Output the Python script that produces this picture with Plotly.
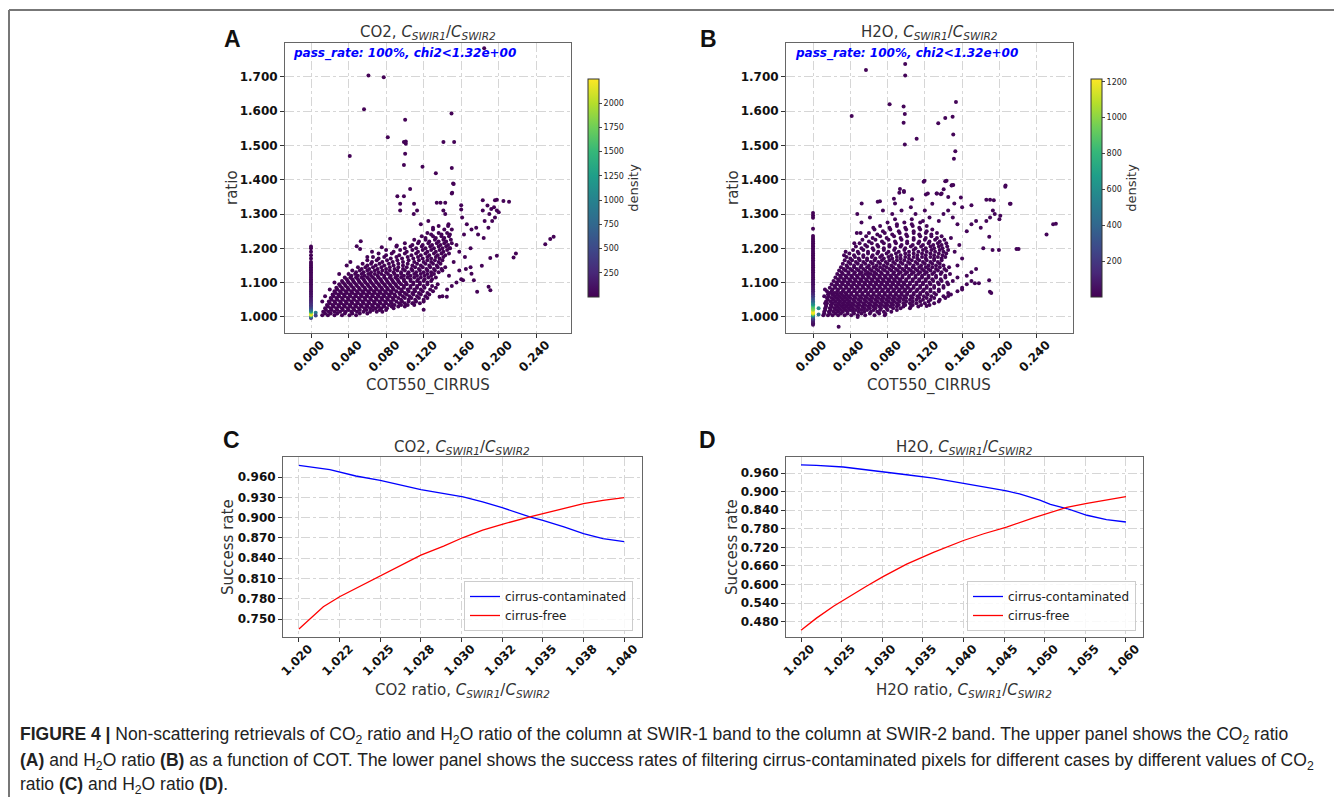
import plotly.graph_objects as go

# ---------------- data ----------------
# Panel A (CO2): dense cloud, one row per ratio value -> list of COT550 values
cloud_rows_a = [
    (1.005, [0.012, 0.018, 0.025, 0.033, 0.041, 0.048]),
    (1.010, [0.015, 0.021, 0.028, 0.036, 0.044, 0.052, 0.060]),
    (1.015, [0.013, 0.019, 0.025, 0.031, 0.037, 0.043, 0.049, 0.056, 0.063, 0.070, 0.076]),
    (1.020, [0.016, 0.022, 0.028, 0.034, 0.040, 0.046, 0.052, 0.059, 0.066, 0.073, 0.080]),
    (1.025, [0.015, 0.021, 0.027, 0.033, 0.039, 0.045, 0.051, 0.057, 0.063, 0.069, 0.075, 0.081, 0.088]),
    (1.030, [0.018, 0.024, 0.030, 0.036, 0.042, 0.048, 0.054, 0.060, 0.066, 0.072, 0.078, 0.086, 0.093, 0.100]),
    (1.035, [0.017, 0.023, 0.029, 0.035, 0.041, 0.047, 0.053, 0.059, 0.065, 0.071, 0.077, 0.083, 0.089, 0.096, 0.103, 0.110]),
    (1.040, [0.020, 0.026, 0.032, 0.038, 0.044, 0.050, 0.056, 0.062, 0.068, 0.074, 0.080, 0.086, 0.094, 0.100, 0.108, 0.116]),
    (1.045, [0.019, 0.025, 0.031, 0.037, 0.043, 0.049, 0.055, 0.061, 0.067, 0.073, 0.079, 0.085, 0.091, 0.097, 0.104, 0.112, 0.120]),
    (1.050, [0.022, 0.028, 0.034, 0.040, 0.046, 0.052, 0.058, 0.064, 0.070, 0.076, 0.082, 0.088, 0.096, 0.104, 0.111, 0.120]),
    (1.055, [0.021, 0.027, 0.033, 0.039, 0.045, 0.051, 0.057, 0.063, 0.069, 0.075, 0.081, 0.087, 0.093, 0.100, 0.107, 0.115, 0.124]),
    (1.060, [0.024, 0.030, 0.036, 0.042, 0.048, 0.054, 0.060, 0.066, 0.072, 0.078, 0.084, 0.090, 0.098, 0.105, 0.113, 0.122]),
    (1.065, [0.023, 0.029, 0.035, 0.041, 0.047, 0.053, 0.059, 0.065, 0.071, 0.077, 0.083, 0.089, 0.095, 0.102, 0.109, 0.117, 0.126]),
    (1.070, [0.026, 0.032, 0.038, 0.044, 0.050, 0.056, 0.062, 0.068, 0.074, 0.080, 0.086, 0.094, 0.100, 0.108, 0.115, 0.124]),
    (1.075, [0.025, 0.031, 0.037, 0.043, 0.049, 0.055, 0.061, 0.067, 0.073, 0.079, 0.085, 0.091, 0.097, 0.104, 0.111, 0.119, 0.130]),
    (1.080, [0.028, 0.034, 0.040, 0.046, 0.052, 0.058, 0.064, 0.070, 0.076, 0.082, 0.088, 0.096, 0.103, 0.110, 0.117, 0.127]),
    (1.085, [0.027, 0.033, 0.039, 0.045, 0.051, 0.057, 0.063, 0.069, 0.075, 0.081, 0.087, 0.093, 0.099, 0.106, 0.113, 0.121, 0.133]),
    (1.090, [0.031, 0.037, 0.043, 0.049, 0.055, 0.061, 0.067, 0.073, 0.079, 0.085, 0.091, 0.099, 0.106, 0.113, 0.120, 0.129]),
    (1.095, [0.030, 0.036, 0.042, 0.048, 0.054, 0.060, 0.066, 0.072, 0.078, 0.084, 0.090, 0.096, 0.102, 0.109, 0.116, 0.124, 0.135]),
    (1.100, [0.034, 0.040, 0.046, 0.052, 0.058, 0.064, 0.070, 0.076, 0.082, 0.088, 0.094, 0.101, 0.109, 0.116, 0.124]),
    (1.105, [0.033, 0.039, 0.045, 0.051, 0.057, 0.063, 0.069, 0.075, 0.081, 0.087, 0.093, 0.099, 0.106, 0.113, 0.120, 0.128]),
    (1.110, [0.038, 0.044, 0.050, 0.056, 0.062, 0.068, 0.074, 0.080, 0.086, 0.092, 0.099, 0.106, 0.114, 0.121, 0.129]),
    (1.115, [0.036, 0.042, 0.048, 0.054, 0.060, 0.066, 0.072, 0.078, 0.084, 0.090, 0.096, 0.103, 0.110, 0.117, 0.125, 0.133]),
    (1.120, [0.043, 0.050, 0.057, 0.064, 0.071, 0.078, 0.085, 0.092, 0.099, 0.106, 0.113, 0.121, 0.128]),
    (1.125, [0.040, 0.047, 0.054, 0.061, 0.068, 0.075, 0.082, 0.089, 0.096, 0.103, 0.110, 0.117, 0.124, 0.131]),
    (1.130, [0.048, 0.056, 0.064, 0.072, 0.080, 0.088, 0.096, 0.104, 0.112, 0.120, 0.128, 0.136]),
    (1.135, [0.044, 0.052, 0.060, 0.068, 0.076, 0.084, 0.092, 0.100, 0.108, 0.116, 0.124, 0.132, 0.140]),
    (1.140, [0.054, 0.062, 0.071, 0.080, 0.089, 0.098, 0.107, 0.115, 0.123, 0.131, 0.139]),
    (1.145, [0.050, 0.058, 0.066, 0.075, 0.084, 0.093, 0.102, 0.111, 0.119, 0.127, 0.135, 0.143]),
    (1.150, [0.060, 0.069, 0.078, 0.088, 0.098, 0.108, 0.117, 0.126, 0.134]),
    (1.155, [0.055, 0.064, 0.073, 0.083, 0.093, 0.103, 0.113, 0.122, 0.130, 0.138]),
    (1.160, [0.065, 0.076, 0.087, 0.098, 0.110, 0.120, 0.128, 0.136]),
    (1.165, [0.060, 0.070, 0.081, 0.092, 0.104, 0.115, 0.124, 0.132, 0.140]),
    (1.170, [0.072, 0.085, 0.097, 0.109, 0.119, 0.128, 0.137]),
    (1.175, [0.066, 0.078, 0.091, 0.103, 0.114, 0.124, 0.133, 0.141]),
    (1.180, [0.080, 0.094, 0.107, 0.117, 0.126, 0.135, 0.143]),
    (1.185, [0.072, 0.086, 0.100, 0.112, 0.122, 0.131, 0.139, 0.147]),
    (1.190, [0.088, 0.102, 0.114, 0.124, 0.133, 0.141]),
    (1.195, [0.080, 0.095, 0.108, 0.119, 0.128, 0.137, 0.145]),
    (1.200, [0.100, 0.112, 0.122, 0.131, 0.140, 0.148]),
    (1.205, [0.091, 0.106, 0.118, 0.127, 0.136, 0.144]),
    (1.210, [0.108, 0.119, 0.129, 0.138, 0.146]),
    (1.215, [0.100, 0.114, 0.125, 0.134, 0.142, 0.150]),
    (1.220, [0.115, 0.126, 0.136, 0.144]),
    (1.225, [0.110, 0.122, 0.132, 0.141, 0.149]),
    (1.230, [0.122, 0.133, 0.142]),
    (1.235, [0.118, 0.130, 0.139, 0.147]),
    (1.240, [0.128, 0.139, 0.148]),
    (1.245, [0.124, 0.136, 0.145]),
    (1.255, [0.130, 0.142, 0.150]),
    (1.265, [0.136, 0.146]),
]
# Panel A: sparse points and outliers (COT550, ratio)
sparse_a = [
    (0.053, 1.221), (0.0487, 1.206), (0.0523, 1.198), (0.0754, 1.203), (0.0843, 1.228), (0.0914, 1.208),
    (0.065, 1.19), (0.060, 1.175), (0.042, 1.16), (0.038, 1.15), (0.030, 1.125), (0.025, 1.10),
    (0.020, 1.08), (0.015, 1.06), (0.012, 1.045), (0.140, 1.06), (0.145, 1.08), (0.150, 1.09),
    (0.155, 1.10), (0.160, 1.11), (0.147, 1.12), (0.158, 1.135), (0.165, 1.14), (0.170, 1.145),
    (0.171, 1.126), (0.162, 1.107), (0.1735, 1.107), (0.177, 1.073), (0.1892, 1.088), (0.1911, 1.078),
    (0.182, 1.149), (0.191, 1.172), (0.198, 1.178), (0.2158, 1.173), (0.2183, 1.185), (0.2496, 1.212),
    (0.2549, 1.227), (0.2585, 1.234), (0.164, 1.175), (0.170, 1.20), (0.155, 1.21), (0.163, 1.24),
    (0.1465, 1.27), (0.141, 1.31), (0.143, 1.30), (0.125, 1.28), (0.117, 1.27), (0.1095, 1.30),
    (0.113, 1.31), (0.130, 1.26), (0.161, 1.29), (0.166, 1.27), (0.171, 1.255), (0.176, 1.26),
    (0.184, 1.23), (0.189, 1.26), (0.183, 1.31), (0.198, 1.31), (0.185, 1.28), (0.193, 1.28),
    (0.190, 1.30), (0.192, 1.315), (0.195, 1.32), (0.188, 1.325), (0.196, 1.29), (0.200, 1.305),
    (0.178, 1.24), (0.152, 1.16), (0.158, 1.19), (0.148, 1.20), (0.120, 1.021), (0.1447, 1.059),
    (0.137, 1.059), (0.109, 1.04), (0.133, 1.419), (0.152, 1.388), (0.150, 1.36), (0.1056, 1.373),
    (0.092, 1.352), (0.099, 1.352), (0.095, 1.33), (0.095, 1.31), (0.1098, 1.33), (0.134, 1.333),
    (0.138, 1.333), (0.143, 1.333), (0.160, 1.326), (0.160, 1.313), (0.183, 1.34), (0.196, 1.34),
    (0.198, 1.342), (0.205, 1.338), (0.211, 1.336), (0.0413, 1.469), (0.0565, 1.606), (0.0612, 1.704),
    (0.0775, 1.699), (0.0818, 1.524), (0.1003, 1.575), (0.099, 1.51), (0.101, 1.512), (0.101, 1.505),
    (0.1003, 1.476), (0.099, 1.443), (0.1188, 1.438), (0.1411, 1.51), (0.1497, 1.593), (0.1525, 1.51),
    (0.150, 1.434), (0.1514, 1.389), (0.1504, 1.362), (0.1845, 1.784),
]
# Panel A: column at COT550 = 0 (ratio, density)
column_ratio_a = [0.997, 1.000, 1.003, 1.006, 1.009, 1.012, 1.015, 1.018, 1.021, 1.024, 1.027, 1.030,
                  1.034, 1.038, 1.042, 1.046, 1.050, 1.055, 1.060, 1.065, 1.070, 1.075, 1.080, 1.085,
                  1.090, 1.095, 1.100, 1.105, 1.110, 1.115, 1.120, 1.125, 1.130, 1.135, 1.140, 1.145,
                  1.150, 1.155, 1.160, 1.170, 1.180, 1.190, 1.200, 1.205]
column_density_a = [350, 700, 1400, 2200, 2200, 2000, 1500, 1100, 900, 700, 550, 450,
                    380, 320, 280, 240, 200, 160, 130, 110, 90, 80, 70, 60,
                    55, 50, 45, 40, 35, 30, 30, 25, 25, 20, 20, 20,
                    15, 15, 15, 10, 10, 10, 10, 10]
near_zero_a = [(0.005, 1.012, 900), (0.005, 1.004, 450)]

# Panel B (H2O)
cloud_rows_b = [
    (1.005, [0.011, 0.016, 0.021, 0.027, 0.034, 0.041, 0.048, 0.056, 0.066, 0.077]),
    (1.010, [0.012, 0.018, 0.024, 0.030, 0.037, 0.044, 0.052, 0.061, 0.071]),
    (1.015, [0.012, 0.017, 0.022, 0.027, 0.032, 0.037, 0.043, 0.049, 0.055, 0.062, 0.069, 0.076, 0.084]),
    (1.020, [0.013, 0.019, 0.025, 0.030, 0.035, 0.040, 0.046, 0.052, 0.058, 0.065, 0.072, 0.080, 0.090]),
    (1.025, [0.013, 0.018, 0.023, 0.028, 0.033, 0.038, 0.043, 0.049, 0.055, 0.061, 0.067, 0.073, 0.079, 0.086, 0.094, 0.104]),
    (1.030, [0.014, 0.020, 0.026, 0.031, 0.036, 0.041, 0.047, 0.053, 0.059, 0.065, 0.071, 0.077, 0.083, 0.090, 0.097, 0.105, 0.113]),
    (1.035, [0.014, 0.019, 0.024, 0.029, 0.034, 0.039, 0.044, 0.050, 0.056, 0.062, 0.068, 0.074, 0.080, 0.086, 0.092, 0.099, 0.107, 0.116, 0.125]),
    (1.040, [0.015, 0.021, 0.027, 0.032, 0.037, 0.042, 0.048, 0.054, 0.060, 0.066, 0.072, 0.078, 0.084, 0.090, 0.097, 0.104, 0.111, 0.120, 0.130]),
    (1.045, [0.014, 0.019, 0.024, 0.029, 0.034, 0.039, 0.045, 0.051, 0.057, 0.063, 0.069, 0.075, 0.081, 0.087, 0.093, 0.100, 0.107, 0.115, 0.124, 0.135]),
    (1.050, [0.016, 0.022, 0.027, 0.032, 0.037, 0.043, 0.049, 0.055, 0.061, 0.067, 0.073, 0.079, 0.085, 0.091, 0.097, 0.104, 0.111, 0.118, 0.126, 0.136]),
    (1.055, [0.015, 0.020, 0.025, 0.030, 0.035, 0.040, 0.046, 0.052, 0.058, 0.064, 0.070, 0.076, 0.082, 0.088, 0.094, 0.100, 0.107, 0.114, 0.122, 0.130, 0.142]),
    (1.060, [0.017, 0.023, 0.028, 0.033, 0.038, 0.044, 0.050, 0.056, 0.062, 0.068, 0.074, 0.080, 0.086, 0.092, 0.098, 0.105, 0.112, 0.119, 0.127, 0.140]),
    (1.065, [0.016, 0.021, 0.026, 0.031, 0.036, 0.041, 0.047, 0.053, 0.059, 0.065, 0.071, 0.077, 0.083, 0.089, 0.095, 0.101, 0.108, 0.115, 0.123, 0.132, 0.148]),
    (1.070, [0.018, 0.023, 0.029, 0.035, 0.041, 0.047, 0.053, 0.059, 0.065, 0.071, 0.077, 0.083, 0.089, 0.095, 0.101, 0.108, 0.115, 0.122, 0.130, 0.145]),
    (1.075, [0.015, 0.020, 0.026, 0.032, 0.038, 0.044, 0.050, 0.056, 0.062, 0.068, 0.074, 0.080, 0.086, 0.092, 0.098, 0.104, 0.111, 0.118, 0.126, 0.135, 0.155]),
    (1.080, [0.021, 0.027, 0.033, 0.039, 0.045, 0.051, 0.057, 0.063, 0.069, 0.075, 0.081, 0.087, 0.093, 0.099, 0.105, 0.112, 0.119, 0.126, 0.135]),
    (1.085, [0.018, 0.024, 0.030, 0.036, 0.042, 0.048, 0.054, 0.060, 0.066, 0.072, 0.078, 0.084, 0.090, 0.096, 0.102, 0.108, 0.115, 0.122, 0.130, 0.140, 0.160]),
    (1.090, [0.023, 0.029, 0.035, 0.041, 0.047, 0.053, 0.059, 0.065, 0.071, 0.077, 0.083, 0.089, 0.095, 0.101, 0.108, 0.115, 0.122, 0.130, 0.140]),
    (1.095, [0.020, 0.026, 0.032, 0.038, 0.044, 0.050, 0.056, 0.062, 0.068, 0.074, 0.080, 0.086, 0.092, 0.098, 0.104, 0.111, 0.118, 0.126, 0.135, 0.145, 0.165]),
    (1.100, [0.025, 0.031, 0.037, 0.043, 0.049, 0.055, 0.061, 0.067, 0.073, 0.079, 0.085, 0.091, 0.097, 0.104, 0.111, 0.118, 0.125, 0.134, 0.144]),
    (1.105, [0.022, 0.028, 0.034, 0.040, 0.046, 0.052, 0.058, 0.064, 0.070, 0.076, 0.082, 0.088, 0.094, 0.100, 0.107, 0.114, 0.121, 0.129, 0.138, 0.150, 0.170]),
    (1.110, [0.027, 0.033, 0.039, 0.045, 0.051, 0.057, 0.063, 0.069, 0.075, 0.081, 0.087, 0.093, 0.100, 0.107, 0.114, 0.121, 0.128, 0.137]),
    (1.115, [0.024, 0.030, 0.036, 0.042, 0.048, 0.054, 0.060, 0.066, 0.072, 0.078, 0.084, 0.090, 0.096, 0.103, 0.110, 0.117, 0.124, 0.132, 0.142, 0.155]),
    (1.120, [0.029, 0.035, 0.041, 0.047, 0.053, 0.059, 0.065, 0.071, 0.077, 0.083, 0.089, 0.096, 0.103, 0.110, 0.117, 0.124, 0.132, 0.142]),
    (1.125, [0.026, 0.032, 0.038, 0.044, 0.050, 0.056, 0.062, 0.068, 0.074, 0.080, 0.086, 0.092, 0.099, 0.106, 0.113, 0.120, 0.128, 0.137, 0.147]),
    (1.130, [0.031, 0.038, 0.045, 0.052, 0.059, 0.066, 0.073, 0.080, 0.087, 0.094, 0.101, 0.108, 0.115, 0.122, 0.130, 0.138]),
    (1.135, [0.028, 0.035, 0.042, 0.049, 0.056, 0.063, 0.070, 0.077, 0.084, 0.091, 0.098, 0.105, 0.112, 0.119, 0.126, 0.134, 0.143]),
    (1.140, [0.033, 0.040, 0.047, 0.054, 0.061, 0.068, 0.075, 0.082, 0.089, 0.096, 0.103, 0.110, 0.117, 0.124, 0.132, 0.141]),
    (1.145, [0.030, 0.037, 0.044, 0.051, 0.058, 0.065, 0.072, 0.079, 0.086, 0.093, 0.100, 0.107, 0.114, 0.121, 0.128, 0.136, 0.146]),
    (1.150, [0.036, 0.044, 0.052, 0.060, 0.068, 0.076, 0.084, 0.092, 0.100, 0.108, 0.116, 0.124, 0.132, 0.140]),
    (1.155, [0.032, 0.040, 0.048, 0.056, 0.064, 0.072, 0.080, 0.088, 0.096, 0.104, 0.112, 0.120, 0.128, 0.136]),
    (1.160, [0.038, 0.046, 0.054, 0.062, 0.070, 0.078, 0.086, 0.094, 0.102, 0.110, 0.118, 0.126, 0.134]),
    (1.165, [0.034, 0.042, 0.050, 0.058, 0.066, 0.074, 0.082, 0.090, 0.098, 0.106, 0.114, 0.122, 0.130, 0.138]),
    (1.170, [0.040, 0.049, 0.058, 0.067, 0.076, 0.085, 0.094, 0.103, 0.112, 0.121, 0.130, 0.138]),
    (1.175, [0.036, 0.045, 0.054, 0.063, 0.072, 0.081, 0.090, 0.099, 0.108, 0.117, 0.126, 0.134, 0.142]),
    (1.180, [0.044, 0.054, 0.064, 0.074, 0.084, 0.094, 0.103, 0.112, 0.121, 0.130, 0.139]),
    (1.185, [0.039, 0.049, 0.059, 0.069, 0.079, 0.089, 0.099, 0.108, 0.117, 0.126, 0.135, 0.143]),
    (1.190, [0.048, 0.059, 0.070, 0.081, 0.092, 0.103, 0.113, 0.122, 0.131, 0.140]),
    (1.195, [0.043, 0.054, 0.065, 0.076, 0.087, 0.098, 0.108, 0.118, 0.127, 0.136, 0.145]),
    (1.200, [0.052, 0.064, 0.076, 0.088, 0.099, 0.110, 0.121, 0.130, 0.139]),
    (1.205, [0.046, 0.058, 0.070, 0.082, 0.094, 0.105, 0.116, 0.126, 0.135, 0.144]),
    (1.210, [0.056, 0.069, 0.082, 0.095, 0.107, 0.118, 0.129, 0.138]),
    (1.215, [0.050, 0.063, 0.076, 0.089, 0.101, 0.113, 0.124, 0.134, 0.143]),
    (1.220, [0.060, 0.074, 0.088, 0.101, 0.114, 0.125, 0.136]),
    (1.225, [0.053, 0.067, 0.081, 0.095, 0.108, 0.120, 0.131, 0.141]),
    (1.230, [0.064, 0.079, 0.094, 0.108, 0.121, 0.133]),
    (1.235, [0.057, 0.072, 0.087, 0.101, 0.115, 0.127, 0.138]),
    (1.240, [0.069, 0.085, 0.100, 0.114, 0.127]),
    (1.245, [0.060, 0.077, 0.093, 0.108, 0.121, 0.133]),
    (1.250, [0.075, 0.092, 0.108, 0.122]),
    (1.255, [0.066, 0.083, 0.100, 0.115, 0.128]),
    (1.260, [0.082, 0.099, 0.114]),
    (1.265, [0.072, 0.090, 0.107, 0.122]),
    (1.270, [0.090, 0.106]),
    (1.275, [0.080, 0.098, 0.115]),
    (1.285, [0.088, 0.106]),
]
sparse_b = [
    (0.0128, 1.08), (0.012, 1.06), (0.013, 1.04), (0.0275, 0.9715), (0.0479, 1.000), (0.0776, 1.009),
    (0.1219, 1.032), (0.1451, 1.061), (0.1737, 1.098), (0.1898, 1.073), (0.189, 1.107), (0.178, 1.098),
    (0.1913, 1.07), (0.160, 1.08), (0.165, 1.12), (0.170, 1.13), (0.175, 1.14), (0.155, 1.15),
    (0.160, 1.17), (0.152, 1.19), (0.157, 1.21), (0.148, 1.23), (0.165, 1.25), (0.170, 1.27),
    (0.175, 1.28), (0.180, 1.26), (0.1891, 1.234), (0.1927, 1.195), (0.1995, 1.195), (0.1827, 1.20),
    (0.2184, 1.198), (0.2206, 1.198), (0.2506, 1.24), (0.2577, 1.27), (0.2606, 1.272), (0.186, 1.28),
    (0.190, 1.29), (0.195, 1.30), (0.200, 1.285), (0.201, 1.295), (0.193, 1.31), (0.186, 1.342),
    (0.190, 1.342), (0.194, 1.34), (0.2063, 1.38), (0.2113, 1.33), (0.170, 1.326), (0.1516, 1.331),
    (0.1587, 1.348), (0.1451, 1.35), (0.160, 1.32), (0.145, 1.31), (0.140, 1.30), (0.150, 1.29),
    (0.135, 1.28), (0.155, 1.27), (0.0475, 1.30), (0.052, 1.275), (0.047, 1.245), (0.051, 1.245),
    (0.035, 1.19), (0.0333, 1.18), (0.0443, 1.215), (0.0611, 1.29), (0.0647, 1.26), (0.0522, 1.331),
    (0.0694, 1.336), (0.0933, 1.373), (0.0976, 1.364), (0.088, 1.331), (0.1211, 1.357), (0.1326, 1.36),
    (0.1372, 1.358), (0.1187, 1.394), (0.1419, 1.396), (0.1487, 1.383), (0.075, 1.31), (0.085, 1.30),
    (0.095, 1.31), (0.105, 1.32), (0.110, 1.30), (0.120, 1.31), (0.125, 1.29), (0.118, 1.28),
    (0.128, 1.33), (0.0718, 1.337), (0.0868, 1.345), (0.0926, 1.362), (0.0975, 1.367), (0.1063, 1.343),
    (0.1232, 1.36), (0.133, 1.36), (0.138, 1.36), (0.1402, 1.372), (0.149, 1.384), (0.0415, 1.586),
    (0.0568, 1.720), (0.0822, 1.620), (0.0972, 1.614), (0.0985, 1.592), (0.0972, 1.566), (0.0985, 1.503),
    (0.1112, 1.520), (0.0989, 1.738), (0.0989, 1.704), (0.1344, 1.565), (0.1419, 1.580), (0.1498, 1.584),
    (0.1534, 1.627), (0.1505, 1.532), (0.1527, 1.483), (0.1512, 1.461), (0.2066, 1.383), (0.2120, 1.330),
    (0.1197, 1.397), (0.1433, 1.397), (0.1505, 1.385),
]
column_ratio_b = [0.977, 0.981, 0.985, 0.989, 0.993, 0.997, 1.001, 1.005, 1.009, 1.013, 1.017, 1.021,
                  1.025, 1.029, 1.033, 1.037, 1.041, 1.045, 1.050, 1.055, 1.060, 1.065, 1.070, 1.075,
                  1.080, 1.085, 1.090, 1.095, 1.100, 1.105, 1.110, 1.115, 1.120, 1.125, 1.130, 1.135,
                  1.140, 1.145, 1.150, 1.155, 1.160, 1.165, 1.170, 1.175, 1.180, 1.185, 1.190, 1.195,
                  1.200, 1.205, 1.210, 1.215, 1.220, 1.225, 1.230, 1.236, 1.257, 1.289, 1.296, 1.303]
column_density_b = [30, 40, 60, 90, 150, 250, 400, 700, 1100, 1200, 1200, 1000,
                    950, 900, 800, 650, 550, 450, 350, 280, 220, 170, 130, 100,
                    80, 70, 60, 50, 45, 40, 35, 30, 30, 25, 25, 20,
                    20, 20, 15, 15, 15, 15, 12, 12, 12, 10, 10, 10,
                    10, 10, 8, 8, 8, 8, 6, 6, 5, 5, 5, 5]
near_zero_b = [(0.006, 1.025, 600), (0.006, 1.007, 450)]
cloud_density = 15

# Panels C / D: success-rate curves
co2_x_cont = [1.0200, 1.0219, 1.0235, 1.0250, 1.0275, 1.0301, 1.0313, 1.0325, 1.0342, 1.0350, 1.0363, 1.0375, 1.0387, 1.0400]
co2_contaminated = [0.9772, 0.9708, 0.9615, 0.9551, 0.9413, 0.9305, 0.9231, 0.9147, 0.9010, 0.8960, 0.8862, 0.8764, 0.8690, 0.8646]
co2_x_free = [1.0200, 1.0207, 1.0215, 1.0225, 1.0237, 1.0250, 1.0262, 1.0275, 1.0289, 1.0301, 1.0313, 1.0325, 1.0342, 1.0350, 1.0363, 1.0375, 1.0387, 1.0400]
co2_free = [0.7352, 0.7509, 0.7681, 0.7829, 0.7976, 0.8139, 0.8286, 0.8444, 0.8577, 0.8705, 0.8813, 0.8901, 0.9010, 0.9059, 0.9133, 0.9206, 0.9256, 0.9295]
h2o_x_cont = [1.0200, 1.0219, 1.0252, 1.0281, 1.0301, 1.0330, 1.0363, 1.0400, 1.0425, 1.0453, 1.0469, 1.0494, 1.0507, 1.0527, 1.0552, 1.0576, 1.0600]
h2o_contaminated = [0.9862, 0.9851, 0.9796, 0.9709, 0.9654, 0.9545, 0.9436, 0.9273, 0.9164, 0.9022, 0.8924, 0.8728, 0.8586, 0.8455, 0.8237, 0.8095, 0.8019]
h2o_x_free = [1.0200, 1.0219, 1.0240, 1.0252, 1.0281, 1.0301, 1.0330, 1.0363, 1.0400, 1.0425, 1.0453, 1.0486, 1.0507, 1.0527, 1.0552, 1.0576, 1.0600]
h2o_free = [0.4521, 0.4913, 0.5295, 0.5491, 0.5949, 0.6254, 0.6657, 0.7039, 0.7421, 0.7639, 0.7856, 0.8150, 0.8313, 0.8488, 0.8619, 0.8728, 0.8837]

# tick labels
cot_ticks = [0.0, 0.04, 0.08, 0.12, 0.16, 0.20, 0.24]
ratio_ticks = [1.0, 1.1, 1.2, 1.3, 1.4, 1.5, 1.6, 1.7]
co2_ticks = [1.02, 1.0225, 1.025, 1.0275, 1.03, 1.0325, 1.035, 1.0375, 1.04]
co2_ticktext = ["1.020", "1.022", "1.025", "1.028", "1.030", "1.032", "1.035", "1.038", "1.040"]
h2o_ticks = [1.020, 1.025, 1.030, 1.035, 1.040, 1.045, 1.050, 1.055, 1.060]
rate_ticks_c = [0.75, 0.78, 0.81, 0.84, 0.87, 0.90, 0.93, 0.96]
rate_ticks_d = [0.48, 0.54, 0.60, 0.66, 0.72, 0.78, 0.84, 0.90, 0.96]
cbar_ticks_a = [250, 500, 750, 1000, 1250, 1500, 1750, 2000]
cbar_ticks_b = [200, 400, 600, 800, 1000, 1200]

# ---------------- figure ----------------
# the page body has an 8 px margin, so the figure is 8 px smaller and positions are shifted
OFF = 8
W, H = 1342 - OFF, 797 - OFF


def fx(p):
    return (p - OFF) / W


def fy(p):
    return 1 - (p - OFF) / H


def scatter_points(rows, sparse, col_y, col_d, near):
    xs, ys, ds = [], [], []
    for r, cots in rows:
        for c in cots:
            xs.append(c); ys.append(r); ds.append(cloud_density)
    for c, r in sparse:
        xs.append(c); ys.append(r); ds.append(cloud_density)
    for c, r, d in near:
        xs.append(c); ys.append(r); ds.append(d)
    for r, d in zip(col_y, col_d):
        xs.append(0.0); ys.append(r); ds.append(d)
    return xs, ys, ds


fig = go.Figure()

xa, ya, da = scatter_points(cloud_rows_a, sparse_a, column_ratio_a, column_density_a, near_zero_a)
fig.add_trace(go.Scatter(x=xa, y=ya, mode="markers", xaxis="x", yaxis="y", showlegend=False,
                         marker=dict(size=4, color=da, coloraxis="coloraxis", line_width=0)))
xb, yb, db = scatter_points(cloud_rows_b, sparse_b, column_ratio_b, column_density_b, near_zero_b)
fig.add_trace(go.Scatter(x=xb, y=yb, mode="markers", xaxis="x2", yaxis="y2", showlegend=False,
                         marker=dict(size=4, color=db, coloraxis="coloraxis2", line_width=0)))

fig.add_trace(go.Scatter(x=co2_x_cont, y=co2_contaminated, mode="lines", name="cirrus-contaminated",
                         line=dict(color="#0000ff", width=1.3), xaxis="x3", yaxis="y3", legend="legend"))
fig.add_trace(go.Scatter(x=co2_x_free, y=co2_free, mode="lines", name="cirrus-free",
                         line=dict(color="#ff0000", width=1.3), xaxis="x3", yaxis="y3", legend="legend"))
fig.add_trace(go.Scatter(x=h2o_x_cont, y=h2o_contaminated, mode="lines", name="cirrus-contaminated",
                         line=dict(color="#0000ff", width=1.3), xaxis="x4", yaxis="y4", legend="legend2"))
fig.add_trace(go.Scatter(x=h2o_x_free, y=h2o_free, mode="lines", name="cirrus-free",
                         line=dict(color="#ff0000", width=1.3), xaxis="x4", yaxis="y4", legend="legend2"))

tickfont = dict(family="DejaVu Sans", size=12, color="#111", weight="bold")
axis_style = dict(showline=True, mirror=True, linecolor="#666", linewidth=1, ticks="outside",
                  ticklen=4, tickcolor="#333", showgrid=True, gridcolor="#d6d6d6", griddash="dashdot",
                  gridwidth=1, zeroline=False, tickfont=tickfont, automargin=False)
xstyle = dict(axis_style, tickangle=-45, ticklabelshift=10, ticklabelstandoff=-5)


def fmt3(vals):
    return ["%.3f" % v for v in vals]


def cbar(xpix, ticks):
    return dict(x=fx(xpix), xanchor="left", y=fy(188), yanchor="middle",
                len=218 / H, lenmode="fraction", thickness=11, xpad=0, ypad=0,
                outlinewidth=1, outlinecolor="#333", ticks="outside", ticklen=3,
                tickvals=ticks, tickfont=dict(family="DejaVu Sans", size=8, color="#222"),
                title=dict(text="density", side="right",
                           font=dict(family="DejaVu Sans", size=13, color="#333")))


def legend_at(xright):
    return dict(x=fx(xright), xanchor="right", y=fy(631), yanchor="bottom",
                bgcolor="rgba(255,255,255,0.85)", bordercolor="#cccccc", borderwidth=1,
                itemwidth=30, tracegroupgap=0, font=dict(family="DejaVu Sans", size=12, color="#222"))


fig.update_layout(
    width=W, height=H, margin=dict(l=0, r=0, t=0, b=0),
    paper_bgcolor="white", plot_bgcolor="white",
    xaxis=dict(xstyle, domain=[fx(285), fx(571)], range=[-0.0277, 0.277], anchor="y",
               tickvals=cot_ticks, ticktext=fmt3(cot_ticks)),
    yaxis=dict(axis_style, domain=[fy(333), fy(43)], range=[0.953, 1.799], anchor="x",
               tickvals=ratio_ticks, ticktext=fmt3(ratio_ticks)),
    xaxis2=dict(xstyle, domain=[fx(786), fx(1073)], range=[-0.029, 0.279], anchor="y2",
                tickvals=cot_ticks, ticktext=fmt3(cot_ticks)),
    yaxis2=dict(axis_style, domain=[fy(333), fy(43)], range=[0.953, 1.799], anchor="x2",
                tickvals=ratio_ticks, ticktext=fmt3(ratio_ticks)),
    xaxis3=dict(xstyle, domain=[fx(283), fx(642)], range=[1.01902, 1.0411], anchor="y3",
                tickvals=co2_ticks, ticktext=co2_ticktext),
    yaxis3=dict(axis_style, domain=[fy(637), fy(457)], range=[0.7234, 0.9896], anchor="x3",
                tickvals=rate_ticks_c, ticktext=fmt3(rate_ticks_c)),
    xaxis4=dict(xstyle, domain=[fx(786), fx(1143)], range=[1.01815, 1.0621], anchor="y4",
                tickvals=h2o_ticks, ticktext=fmt3(h2o_ticks)),
    yaxis4=dict(axis_style, domain=[fy(637), fy(457)], range=[0.4303, 1.0119], anchor="x4",
                tickvals=rate_ticks_d, ticktext=fmt3(rate_ticks_d)),
    coloraxis=dict(colorscale="Viridis", cmin=0, cmax=2250, colorbar=cbar(588, cbar_ticks_a)),
    coloraxis2=dict(colorscale="Viridis", cmin=0, cmax=1215, colorbar=cbar(1091, cbar_ticks_b)),
    legend=legend_at(633),
    legend2=legend_at(1136),
)

ratio_html = "<i>C</i><sub><i>SWIR1</i></sub>/<i>C</i><sub><i>SWIR2</i></sub>"
label_font = dict(family="DejaVu Sans", size=15, color="#333")


def note(text, x, y, font, angle=0, xanchor="center"):
    fig.add_annotation(text=text, x=fx(x), y=fy(y), xref="paper", yref="paper", showarrow=False,
                       font=font, textangle=angle, xanchor=xanchor, yanchor="middle")


panel_font = dict(family="Liberation Sans", size=23, color="#111", weight="bold")
note("A", 232, 39, panel_font)
note("B", 709, 39, panel_font)
note("C", 231, 440, panel_font)
note("D", 708, 440, panel_font)

note("CO2, " + ratio_html, 428, 32, label_font)
note("H2O, " + ratio_html, 929, 32, label_font)
note("CO2, " + ratio_html, 462, 448, label_font)
note("H2O, " + ratio_html, 964, 448, label_font)

note("ratio", 232, 188, label_font, angle=-90)
note("ratio", 733, 188, label_font, angle=-90)
note("COT550_CIRRUS", 428, 385, label_font)
note("COT550_CIRRUS", 929, 385, label_font)
note("Success rate", 228, 547, label_font, angle=-90)
note("Success rate", 732, 547, label_font, angle=-90)
note("CO2 ratio, " + ratio_html, 462, 690, label_font)
note("H2O ratio, " + ratio_html, 964, 690, label_font)

pass_font = dict(family="DejaVu Sans", size=12, color="#0000ff", weight="bold", style="italic")
note("pass_rate: 100%, chi2<1.32e+00", 291, 54, pass_font, xanchor="left")
note("pass_rate: 100%, chi2<1.32e+00", 793, 54, pass_font, xanchor="left")

cap_font = dict(family="Liberation Sans", size=17.5, color="#222")
note("<b>FIGURE 4 |</b> Non-scattering retrievals of CO<sub>2</sub> ratio and H<sub>2</sub>O ratio of the column "
     "at SWIR-1 band to the column at SWIR-2 band. The upper panel shows the CO<sub>2</sub> ratio",
     18, 735, cap_font, xanchor="left")
note("<b>(A)</b> and H<sub>2</sub>O ratio <b>(B)</b> as a function of COT. The lower panel shows the success "
     "rates of filtering cirrus-contaminated pixels for different cases by different values of CO<sub>2</sub>",
     18, 761, cap_font, xanchor="left")
note("ratio <b>(C)</b> and H<sub>2</sub>O ratio <b>(D)</b>.", 18, 785, cap_font, xanchor="left")

# page frame lines
fig.add_shape(type="line", xref="paper", yref="paper", x0=fx(9), y0=fy(10), x1=1, y1=fy(10),
              line=dict(color="#777", width=2))
fig.add_shape(type="line", xref="paper", yref="paper", x0=fx(9), y0=fy(10), x1=fx(9), y1=0,
              line=dict(color="#777", width=2))

fig.write_html("out.html")
